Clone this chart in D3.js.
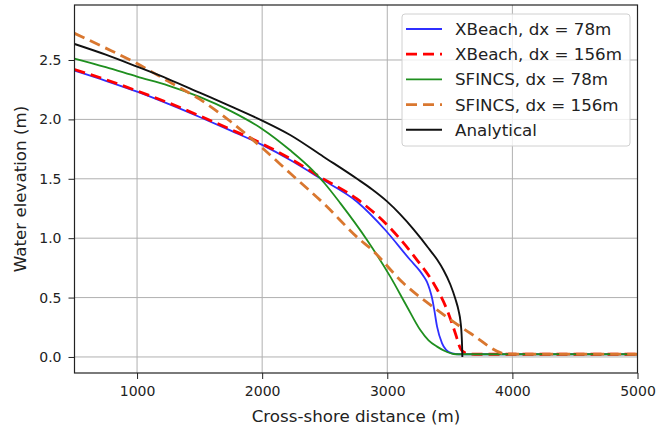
<!DOCTYPE html>
<html><head><meta charset="utf-8">
<script src="https://cdn.jsdelivr.net/npm/d3@7"></script>
<style>
html,body{margin:0;padding:0;background:#fff;}
svg text{font-family:"DejaVu Sans",sans-serif;fill:#222;}
</style></head>
<body><svg id="c" width="658" height="426"></svg>
<script>
// ---- data ----
const xTicks = [1000, 2000, 3000, 4000, 5000];
const yTicks = [0.0, 0.5, 1.0, 1.5, 2.0, 2.5];
const seriesNames = ["XBeach, dx = 78m", "XBeach, dx = 156m", "SFINCS, dx = 78m", "SFINCS, dx = 156m", "Analytical"];

const xbeach78X = [500, 750, 1000, 1250, 1500, 1750, 2000, 2224, 2464, 2758, 2984, 3184, 3260, 3290, 3318, 3340, 3357, 3375, 3398, 3438, 3470, 3518, 3570, 5000];
const xbeach78Y = [2.41, 2.325, 2.233, 2.13, 2.02, 1.905, 1.785, 1.658, 1.504, 1.307, 1.069, 0.816, 0.725, 0.68, 0.63, 0.565, 0.50, 0.40, 0.255, 0.115, 0.06, 0.03, 0.023, 0.023];

const xbeach156X = [500, 750, 1000, 1250, 1500, 1750, 2000, 2224, 2464, 2758, 3038, 3238, 3370, 3478, 3544, 3584, 3610, 3638, 3700, 5000];
const xbeach156Y = [2.42, 2.335, 2.24, 2.14, 2.03, 1.915, 1.795, 1.67, 1.515, 1.33, 1.069, 0.816, 0.62, 0.396, 0.20, 0.073, 0.042, 0.03, 0.023, 0.023];

const sfincs78X = [500, 750, 1000, 1250, 1500, 1750, 2000, 2224, 2400, 2500, 2624, 2838, 3024, 3158, 3264, 3330, 3398, 3460, 3530, 3570, 5000];
const sfincs78Y = [2.512, 2.44, 2.36, 2.285, 2.19, 2.07, 1.92, 1.74, 1.575, 1.46, 1.295, 0.985, 0.676, 0.423, 0.227, 0.14, 0.087, 0.05, 0.025, 0.023, 0.023];

const sfincs156X = [500, 750, 1000, 1250, 1500, 1750, 2000, 2224, 2490, 2784, 2864, 3130, 3398, 3664, 3960, 5000];
const sfincs156Y = [2.724, 2.60, 2.47, 2.32, 2.17, 1.98, 1.76, 1.546, 1.294, 0.985, 0.915, 0.62, 0.396, 0.20, 0.025, 0.023];

const analyticalX = [500, 750, 1000, 1250, 1500, 1750, 2000, 2224, 2490, 2758, 2880, 2998, 3100, 3210, 3264, 3330, 3398, 3450, 3504, 3544, 3570, 3585, 3594, 3598, 3600];
const analyticalY = [2.635, 2.545, 2.444, 2.34, 2.225, 2.11, 1.99, 1.869, 1.686, 1.50, 1.41, 1.31, 1.205, 1.075, 1.005, 0.915, 0.82, 0.73, 0.61, 0.49, 0.39, 0.30, 0.19, 0.09, 0.0];

// ---- layout ----
const svg = d3.select("#c");
const L = 74.5, R = 637.5, T = 5, B = 373;
const x = d3.scaleLinear().domain([500, 5000]).range([L, R]);
const y = d3.scaleLinear().domain([-0.135, 2.963]).range([B, T]);

svg.append("defs").append("clipPath").attr("id", "clip")
  .append("rect").attr("x", L).attr("y", T).attr("width", R - L).attr("height", B - T);

// grid
const g = svg.append("g");
g.selectAll(".gx").data(xTicks).enter().append("line")
  .attr("x1", d => x(d)).attr("x2", d => x(d)).attr("y1", T).attr("y2", B)
  .attr("stroke", "#b0b0b0").attr("stroke-width", 1);
g.selectAll(".gy").data(yTicks).enter().append("line")
  .attr("y1", d => y(d)).attr("y2", d => y(d)).attr("x1", L).attr("x2", R)
  .attr("stroke", "#b0b0b0").attr("stroke-width", 1);

// series
const series = [
  {X: xbeach78X, Y: xbeach78Y, color: "#2f2fff", w: 1.8, dash: null},
  {X: xbeach156X, Y: xbeach156Y, color: "#ff0000", w: 2.8, dash: "11,6"},
  {X: sfincs78X, Y: sfincs78Y, color: "#1f8f1f", w: 1.8, dash: null},
  {X: sfincs156X, Y: sfincs156Y, color: "#d9772f", w: 2.8, dash: "11,6"},
  {X: analyticalX, Y: analyticalY, color: "#111111", w: 1.9, dash: null}
];
const pg = svg.append("g").attr("clip-path", "url(#clip)");
const line = d3.line().x(d => x(d[0])).y(d => y(d[1])).curve(d3.curveMonotoneX);
series.forEach(s => {
  const pts = s.X.map((v, i) => [v, s.Y[i]]);
  pg.append("path").datum(pts).attr("d", line)
    .attr("fill", "none").attr("stroke", s.color).attr("stroke-width", s.w)
    .attr("stroke-dasharray", s.dash);
});

// axes
const xAxis = d3.axisBottom(x).tickValues(xTicks).tickSize(6).tickPadding(7).tickFormat(d3.format("d"));
const yAxis = d3.axisLeft(y).tickValues(yTicks).tickSize(6).tickPadding(7).tickFormat(d3.format(".1f"));
const gx = svg.append("g").attr("transform", `translate(0,${B})`).call(xAxis);
const gy = svg.append("g").attr("transform", `translate(${L},0)`).call(yAxis);
[gx, gy].forEach(a => {
  a.select(".domain").remove();
  a.selectAll("line").attr("stroke", "#222").attr("stroke-width", 1);
  a.selectAll("text").attr("font-size", "14px").attr("font-family", "DejaVu Sans").attr("fill", "#222");
});
svg.append("rect").attr("x", L).attr("y", T).attr("width", R - L).attr("height", B - T)
  .attr("fill", "none").attr("stroke", "#222").attr("stroke-width", 1.2);

svg.append("text").attr("x", (L + R) / 2).attr("y", 422).attr("text-anchor", "middle")
  .attr("font-size", "16.7px").text("Cross-shore distance (m)");
svg.append("text").attr("transform", `translate(25.5,${(T + B) / 2}) rotate(-90)`).attr("text-anchor", "middle")
  .attr("font-size", "16.7px").text("Water elevation (m)");

// legend
const lg = svg.append("g");
lg.append("rect").attr("x", 402).attr("y", 14).attr("width", 228).attr("height", 132).attr("rx", 3)
  .attr("fill", "#fff").attr("fill-opacity", 0.8).attr("stroke", "#d0d0d0").attr("stroke-width", 1);
seriesNames.forEach((n, i) => {
  const yy = 29 + i * 25.2;
  const s = series[i];
  lg.append("line").attr("x1", 406).attr("x2", 442).attr("y1", yy).attr("y2", yy)
    .attr("stroke", s.color).attr("stroke-width", s.w).attr("stroke-dasharray", s.dash);
  lg.append("text").attr("x", 455).attr("y", yy + 6).attr("font-size", "16.7px").text(n);
});
</script></body></html>
